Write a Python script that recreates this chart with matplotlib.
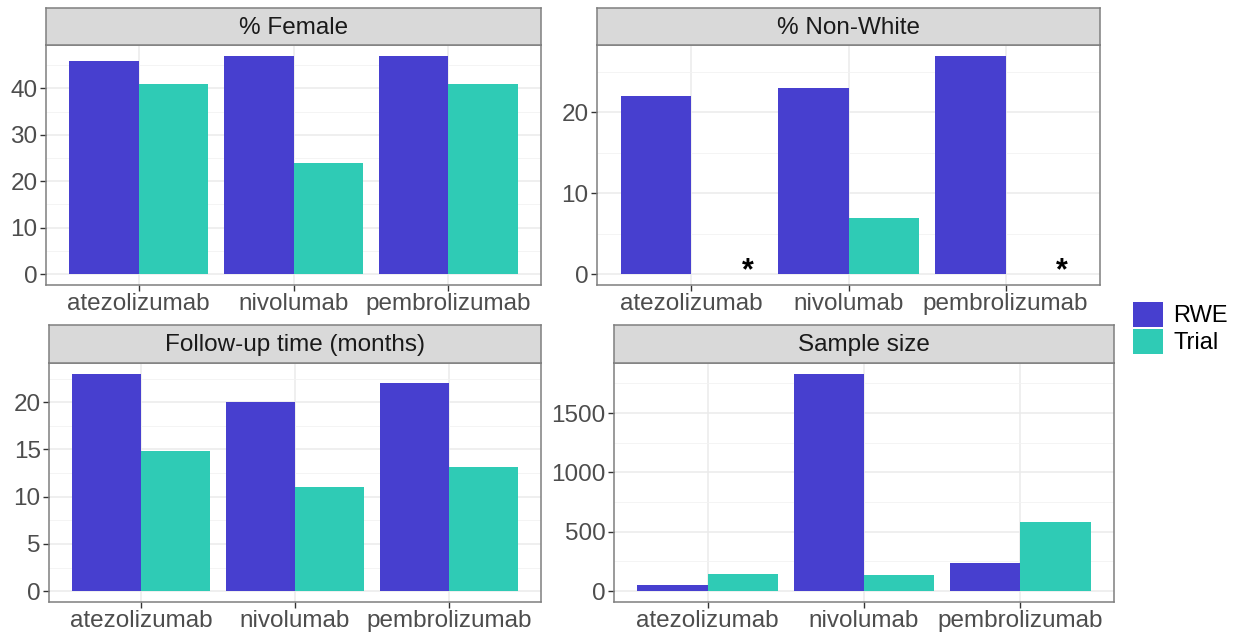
import numpy as np
import matplotlib.pyplot as plt
from matplotlib.patches import Patch

plt.rcParams['font.family'] = ['Liberation Sans', 'DejaVu Sans']

# Data
drugs = ['atezolizumab', 'nivolumab', 'pembrolizumab']
groups = ['RWE', 'Trial']
titles = ['% Female', '% Non-White', 'Follow-up time (months)', 'Sample size']

female_rwe = [46, 47, 47]
female_trial = [41, 24, 41]
nonwhite_rwe = [22, 23, 27]
nonwhite_trial = [0, 7, 0]
nonwhite_missing = [True, False, True]
followup_rwe = [23, 20, 22]
followup_trial = [14.8, 11, 13.1]
sample_rwe = [50, 1830, 236]
sample_trial = [143, 135, 581]

panel_values = [
    (female_rwe, female_trial),
    (nonwhite_rwe, nonwhite_trial),
    (followup_rwe, followup_trial),
    (sample_rwe, sample_trial),
]
major_steps = [10, 10, 5, 500]

col_rwe = '#473FCF'
col_trial = '#2FCBB5'
border = '#7f7f7f'
tick_col = '#4d4d4d'

W, H = 1234, 632
fig = plt.figure(figsize=(W / 100, H / 100), dpi=100)

# panel boxes in pixels: left, right, strip top, strip bottom, axis bottom
boxes = [
    (46, 541, 8, 45, 285),
    (597, 1100, 8, 45, 285),
    (49, 541, 325, 363, 602),
    (614, 1114, 325, 363, 602),
]

for (l, r, st, sb, ab), title, (rwe, trial), step in zip(boxes, titles, panel_values, major_steps):
    ax = fig.add_axes([l / W, 1 - ab / H, (r - l) / W, (ab - sb) / H])
    sax = fig.add_axes([l / W, 1 - sb / H, (r - l) / W, (sb - st) / H])

    x = np.arange(len(drugs))
    ax.bar(x - 0.225, rwe, width=0.45, color=col_rwe, zorder=2)
    ax.bar(x + 0.225, trial, width=0.45, color=col_trial, zorder=2)

    ymax = max(max(rwe), max(trial))
    ax.set_ylim(-0.05 * ymax, 1.05 * ymax)
    ax.set_xlim(-0.6, len(drugs) - 0.4)

    ticks = np.arange(0, ymax + 1e-9, step)
    ax.set_yticks(ticks)
    ax.set_yticklabels([f'{t:g}' for t in ticks])
    ax.set_yticks(np.arange(step / 2, 1.05 * ymax, step), minor=True)
    ax.set_xticks(x)
    ax.set_xticklabels(drugs)

    ax.grid(True, which='major', color='#ebebeb', linewidth=1.1, zorder=0)
    ax.grid(True, which='minor', axis='y', color='#f2f2f2', linewidth=0.6, zorder=0)
    ax.set_axisbelow(True)
    ax.tick_params(axis='both', which='major', labelsize=17.5, labelcolor=tick_col,
                   color='#333333', length=4, width=1, pad=2)
    ax.tick_params(axis='y', which='minor', length=0)
    for s in ax.spines.values():
        s.set_color(border)
        s.set_linewidth(1.1)

    if title == '% Non-White':
        for i, miss in enumerate(nonwhite_missing):
            if miss:
                ax.text(x[i] + 0.36, 0.3, '*', ha='center', va='center',
                        fontsize=22, fontweight='bold', color='black', zorder=3)

    sax.set_xticks([])
    sax.set_yticks([])
    sax.set_facecolor('#d9d9d9')
    for s in sax.spines.values():
        s.set_color(border)
        s.set_linewidth(1.1)
    sax.text(0.5, 0.47, title, ha='center', va='center', fontsize=17.5,
             color='#1a1a1a', transform=sax.transAxes)

handles = [Patch(facecolor=col_rwe, label=groups[0]), Patch(facecolor=col_trial, label=groups[1])]
fig.legend(handles=handles, loc='center left', bbox_to_anchor=(1124 / W, 1 - 328 / H),
           frameon=False, fontsize=17, handlelength=1.25, handleheight=1.25,
           handletextpad=0.45, labelspacing=0.05, borderaxespad=0)

fig.savefig('out.png', dpi=100)
